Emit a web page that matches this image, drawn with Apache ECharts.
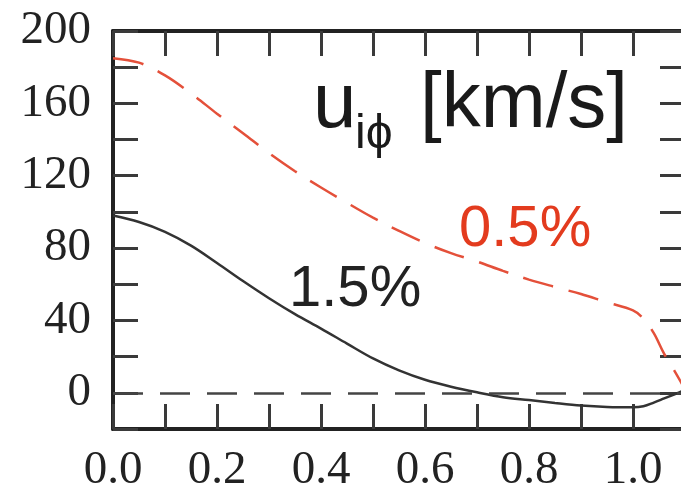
<!DOCTYPE html>
<html>
<head>
<meta charset="utf-8">
<script src="https://cdn.jsdelivr.net/npm/echarts@6/dist/echarts.min.js"></script>
<style>
  html, body { margin: 0; padding: 0; background: #fff; }
  #chart { width: 681px; height: 486px; }
</style>
</head>
<body>
<div id="chart"></div>
<script>
// Radius grid (normalised) shared by both profiles
const radius = [0, 0.05, 0.1, 0.15, 0.2, 0.25, 0.3, 0.35, 0.4, 0.45, 0.5, 0.55, 0.6,
                0.65, 0.7, 0.75, 0.8, 0.85, 0.9, 0.95, 1.0, 1.02, 1.04, 1.06, 1.08, 1.1];
// Ion azimuthal velocity, 0.5% case (km/s)
const u05 = [185, 182.5, 175.5, 165.5, 154.3, 143.5, 132.5, 122.5, 113.5, 105, 96.8, 89.5, 82.8,
             77.2, 72.6, 67.4, 62.6, 58.5, 54.6, 50, 45.6, 41, 33, 21.5, 12, 2];
// Ion azimuthal velocity, 1.5% case (km/s)
const u15 = [98, 94.4, 89, 81.4, 71.8, 61.8, 52.3, 43.5, 35.5, 27.2, 19, 12.4, 7.2,
             3.4, 0.3, -2.4, -4, -5.6, -7, -7.8, -8, -7.4, -5.4, -3.1, -0.8, 1.5];
const xTicks = { min: 0, max: 1.1, step: 0.1 };
const yTicks = { min: -20, max: 200, step: 20 };

const pair = (xs, ys) => xs.map((x, i) => [x, ys[i]]);

const frame = '#222';
const tickStyle = { show: true, inside: true, length: 25, lineStyle: { color: '#3a3a3a', width: 3 } };
const numFont = { fontFamily: 'Liberation Serif', fontSize: 47, color: '#222' };

const chart = echarts.init(document.getElementById('chart'), null, { renderer: 'canvas' });
chart.setOption({
  backgroundColor: '#fff',
  animation: false,
  grid: { left: 113, top: 31, width: 572, height: 398, containLabel: false, outerBoundsMode: 'none' },
  xAxis: [
    {
      type: 'value', position: 'bottom', min: xTicks.min, max: xTicks.max, interval: xTicks.step,
      axisLine: { show: true, onZero: false, lineStyle: { color: frame, width: 4 } },
      axisTick: tickStyle, splitLine: { show: false },
      axisLabel: Object.assign({
        margin: 18, showMaxLabel: false,
        formatter: v => (Math.round(v * 10) % 2 === 0 ? v.toFixed(1) : '')
      }, numFont)
    },
    {
      type: 'value', position: 'top', min: xTicks.min, max: xTicks.max, interval: xTicks.step,
      axisLine: { show: true, onZero: false, lineStyle: { color: frame, width: 4 } },
      axisTick: tickStyle, splitLine: { show: false }, axisLabel: { show: false }
    }
  ],
  yAxis: [
    {
      type: 'value', position: 'left', min: yTicks.min, max: yTicks.max, interval: yTicks.step,
      axisLine: { show: true, onZero: false, lineStyle: { color: frame, width: 4 } },
      axisTick: tickStyle, splitLine: { show: false },
      axisLabel: Object.assign({
        margin: 22,
        formatter: v => (v % 40 === 0 ? String(v) : '')
      }, numFont)
    },
    {
      type: 'value', position: 'right', min: yTicks.min, max: yTicks.max, interval: yTicks.step,
      axisLine: { show: true, onZero: false, lineStyle: { color: frame, width: 4 } },
      axisTick: tickStyle, splitLine: { show: false }, axisLabel: { show: false }
    }
  ],
  series: [
    {
      name: '1.5%', type: 'line', data: pair(radius, u15), smooth: 0.35, symbol: 'none',
      lineStyle: { color: '#333', width: 2.5 },
      markLine: {
        silent: true, symbol: 'none', label: { show: false },
        lineStyle: { color: '#444', width: 2.5, type: [30, 17] },
        data: [{ yAxis: 0 }]
      }
    },
    {
      name: '0.5%', type: 'line', data: pair(radius, u05), smooth: 0.35, symbol: 'none',
      lineStyle: { color: '#e4503a', width: 2.5, type: [31, 16] }
    }
  ],
  graphic: [
    { type: 'text', x: 313, y: 105, style: { text: 'u', font: '78px "Liberation Sans"', fill: '#1a1a1a', verticalAlign: 'middle' } },
    { type: 'text', x: 355, y: 135, style: { text: 'iϕ', font: '48px "Liberation Sans", "DejaVu Sans"', fill: '#1a1a1a', verticalAlign: 'middle' } },
    { type: 'text', x: 420, y: 105, style: { text: '[km/s]', font: '78px "Liberation Sans"', fill: '#1a1a1a', verticalAlign: 'middle' } },
    { type: 'text', x: 459, y: 230, style: { text: '0.5%', font: '58px "Liberation Sans"', fill: '#e33b1e', verticalAlign: 'middle' } },
    { type: 'text', x: 289, y: 290, style: { text: '1.5%', font: '58px "Liberation Sans"', fill: '#222', verticalAlign: 'middle' } }
  ]
});
</script>
</body>
</html>
